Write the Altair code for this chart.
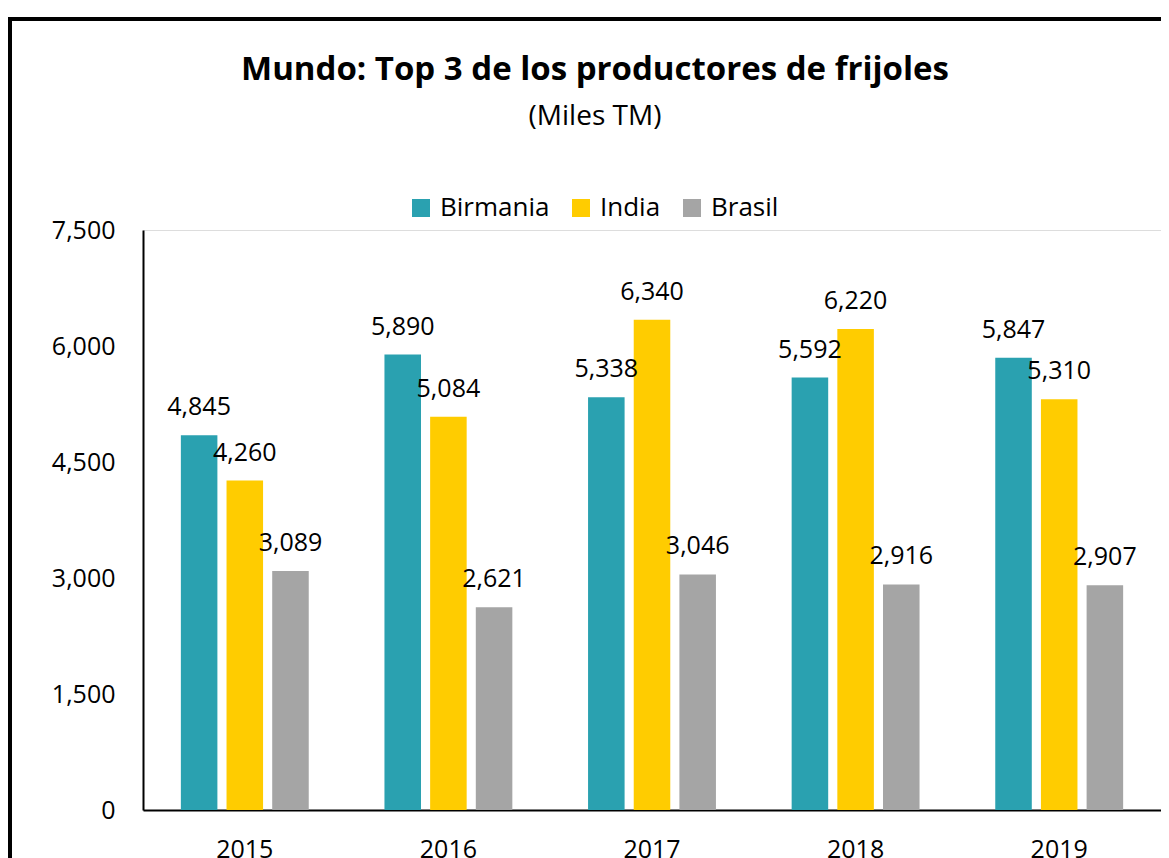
import altair as alt
import pandas as pd

years = ["2015", "2016", "2017", "2018", "2019"]
paises = ["Birmania", "India", "Brasil"]
birmania = [4845, 5890, 5338, 5592, 5847]
india = [4260, 5084, 6340, 6220, 5310]
brasil = [3089, 2621, 3046, 2916, 2907]
colores = ["#2AA1B0", "#FFCC00", "#A5A5A5"]

rows = []
for i, y in enumerate(years):
    for p, serie in zip(paises, [birmania, india, brasil]):
        rows.append({"year": y, "pais": p, "valor": serie[i]})
df = pd.DataFrame(rows)

FONT = "Open Sans"

base = alt.Chart(df).encode(
    x=alt.X("year:N", sort=years, title=None,
            scale=alt.Scale(paddingInner=0.327, paddingOuter=0.1635),
            axis=alt.Axis(labelAngle=0, ticks=False, labelFontSize=25, labelPadding=27,
                          domainColor="black", domainWidth=2, labelColor="black", labelFont=FONT)),
    xOffset=alt.XOffset("pais:N", sort=paises,
                        scale=alt.Scale(paddingInner=0.2, paddingOuter=0.1)),
)

yenc = alt.Y("valor:Q", title=None,
             scale=alt.Scale(domain=[0, 7500], nice=False),
             axis=alt.Axis(values=[0, 1500, 3000, 4500, 6000, 7500], format=",.0f", grid=False,
                           ticks=False, labelFontSize=25, labelPadding=28, domainColor="black",
                           domainWidth=2, labelColor="black", labelFont=FONT))

bars = base.mark_bar().encode(
    y=yenc,
    color=alt.Color("pais:N", sort=paises, title=None,
                    scale=alt.Scale(domain=paises, range=colores),
                    legend=alt.Legend(orient="none", direction="horizontal", legendX=265, legendY=-35,
                                      symbolType="square", symbolSize=324, labelFontSize=26,
                                      labelFont=FONT, labelColor="black", columnPadding=18,
                                      labelOffset=6, symbolStrokeWidth=0)),
)

labels = base.mark_text(baseline="bottom", dy=-15, fontSize=25, font=FONT, color="black").encode(
    y=alt.Y("valor:Q"),
    text=alt.Text("valor:Q", format=","),
)

one = alt.Chart(pd.DataFrame({"a": [0]}))
left_border = one.mark_rule(color="black", strokeWidth=4).encode(
    x=alt.value(-133), y=alt.value(-213), y2=alt.value(2000))
top_border = one.mark_rule(color="black", strokeWidth=4).encode(
    x=alt.value(-135), x2=alt.value(2000), y=alt.value(-211))

chart = alt.layer(bars, labels, left_border, top_border).properties(
    width=1018, height=580,
    autosize=alt.AutoSizeParams(type="none"),
    padding={"left": 135, "top": 222, "right": 0, "bottom": 48},
    title=alt.TitleParams(
        text="Mundo: Top 3 de los productores de frijoles",
        subtitle="(Miles TM)",
        anchor="middle", frame="group", dx=-57, offset=-116,
        fontSize=33, font=FONT, fontWeight="bold", color="black",
        subtitleFontSize=28, subtitleFont=FONT, subtitleColor="black", subtitlePadding=16,
    ),
).configure_view(stroke=None).configure(background="white")

chart.save("out.html", embed_options={"renderer": "svg", "actions": False})
